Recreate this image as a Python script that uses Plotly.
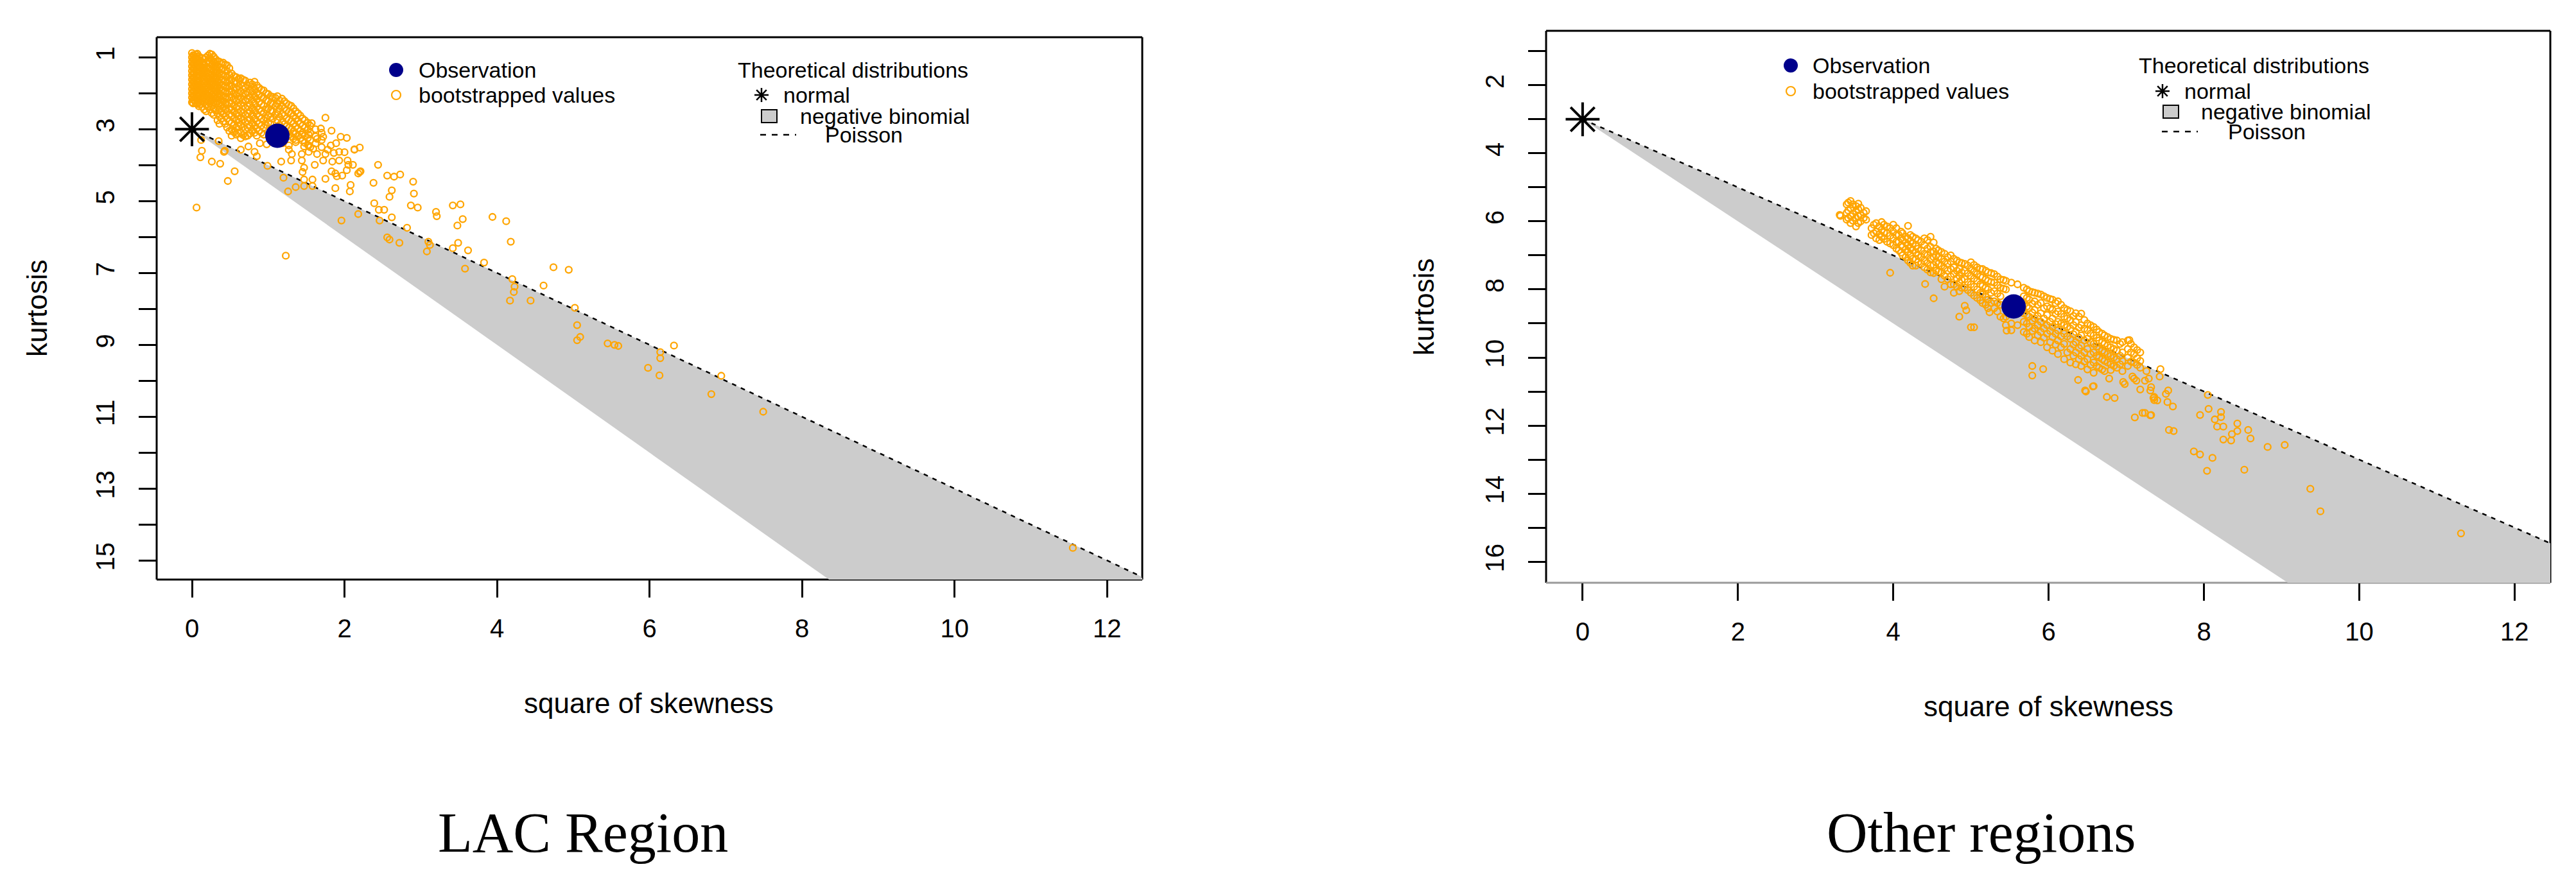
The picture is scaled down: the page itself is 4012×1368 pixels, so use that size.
import plotly.graph_objects as go

W, H = 4012, 1368
FONT = "Liberation Sans, Arial, sans-serif"
ORANGE = "#FFA500"
NAVY = "#00008B"
GREY = "#CCCCCC"

# ---- theoretical curves (shared) ----
normal_x = [0]
normal_y = [3]
poisson_x = [0, 13]
poisson_y = [3, 16]
nbinom_x = [0, 13, 13]
nbinom_y = [3, 16, 22.5]

x_ticks = [0, 2, 4, 6, 8, 10, 12]

# ---- LAC region ----
lac_obs_x = [1.12]
lac_obs_y = [3.18]

# dense part of the bootstrap cloud, read column by column (x, kurtosis values)
lac_core = [
    (0.00, [0.88, 1.00, 1.12, 1.25, 1.38, 1.50, 1.62, 1.75, 1.88, 2.00, 2.12, 2.25]),
    (0.03, [0.95, 1.08, 1.20, 1.32, 1.45, 1.58, 1.70, 1.82, 1.95, 2.08, 2.20]),
    (0.07, [0.90, 1.02, 1.15, 1.28, 1.40, 1.53, 1.66, 1.80, 1.92, 2.05, 2.18, 2.30]),
    (0.11, [1.10, 1.25, 1.38, 1.50, 1.62, 1.75, 1.90, 2.02, 2.15, 2.30]),
    (0.16, [1.05, 1.20, 1.32, 1.45, 1.60, 1.72, 1.85, 1.98, 2.12, 2.25, 2.45]),
    (0.21, [0.95, 1.10, 1.28, 1.42, 1.55, 1.68, 1.82, 1.95, 2.08, 2.22, 2.38]),
    (0.26, [0.92, 1.08, 1.22, 1.35, 1.50, 1.65, 1.78, 1.92, 2.05, 2.20, 2.35, 2.55]),
    (0.31, [1.05, 1.18, 1.32, 1.45, 1.60, 1.75, 1.88, 2.02, 2.15, 2.30, 2.48]),
    (0.36, [1.12, 1.28, 1.42, 1.55, 1.70, 1.85, 2.00, 2.12, 2.28, 2.45, 2.65, 2.85]),
    (0.41, [1.15, 1.30, 1.48, 1.62, 1.78, 1.92, 2.08, 2.22, 2.40, 2.58, 2.78]),
    (0.46, [1.22, 1.38, 1.55, 1.70, 1.85, 2.00, 2.15, 2.32, 2.50, 2.70, 2.95]),
    (0.52, [1.45, 1.62, 1.78, 1.95, 2.10, 2.28, 2.45, 2.62, 2.82, 3.00, 3.18]),
    (0.58, [1.55, 1.72, 1.88, 2.05, 2.22, 2.40, 2.58, 2.75, 2.95, 3.15]),
    (0.64, [1.58, 1.75, 1.95, 2.12, 2.30, 2.50, 2.68, 2.88, 3.10, 3.25]),
    (0.70, [1.65, 1.85, 2.02, 2.20, 2.40, 2.60, 2.80, 3.00, 3.20]),
    (0.76, [1.70, 1.90, 2.10, 2.30, 2.50, 2.72, 2.92, 3.12]),
    (0.82, [1.68, 1.88, 2.08, 2.28, 2.48, 2.70, 2.90, 3.10]),
    (0.88, [1.85, 2.05, 2.25, 2.45, 2.65, 2.85, 3.05]),
    (0.94, [1.92, 2.12, 2.35, 2.55, 2.75, 2.95, 3.15]),
    (1.00, [2.02, 2.22, 2.42, 2.62, 2.82]),
    (1.06, [2.10, 2.30, 2.50, 2.70]),
    (1.12, [2.08, 2.30, 2.52, 2.75]),
    (1.18, [2.15, 2.35, 2.58, 2.80, 3.02]),
    (1.24, [2.28, 2.48, 2.70, 2.92, 3.12]),
    (1.30, [2.35, 2.55, 2.78, 3.00, 3.20]),
    (1.36, [2.50, 2.70, 2.92, 3.12, 3.30]),
    (1.42, [2.62, 2.85, 3.05, 3.25]),
    (1.48, [2.75, 2.95, 3.18, 3.38]),
    (1.55, [2.90, 3.10, 3.30, 3.50]),
    (1.62, [3.00, 3.20, 3.40]),
    (1.70, [3.10, 3.30, 3.50]),
]

# second, staggered pass over the same dense area
lac_core_b = [
    (0.015, [0.94, 1.06, 1.18, 1.31, 1.44, 1.56, 1.68, 1.81, 1.94, 2.06, 2.18, 2.28]),
    (0.05, [0.92, 1.05, 1.14, 1.26, 1.38, 1.52, 1.64, 1.77, 1.90, 2.02, 2.14, 2.27]),
    (0.09, [0.97, 1.08, 1.20, 1.33, 1.46, 1.58, 1.70, 1.84, 1.97, 2.10, 2.24, 2.36]),
    (0.135, [1.02, 1.16, 1.30, 1.42, 1.56, 1.68, 1.82, 1.95, 2.08, 2.22, 2.38]),
    (0.185, [1.00, 1.14, 1.26, 1.38, 1.52, 1.65, 1.78, 1.90, 2.04, 2.18, 2.32, 2.50]),
    (0.235, [0.90, 1.02, 1.16, 1.32, 1.46, 1.60, 1.74, 1.88, 2.00, 2.14, 2.28, 2.45]),
    (0.285, [0.98, 1.12, 1.26, 1.40, 1.55, 1.70, 1.84, 1.97, 2.10, 2.25, 2.42, 2.60]),
    (0.335, [1.10, 1.24, 1.38, 1.52, 1.66, 1.80, 1.94, 2.08, 2.22, 2.38, 2.56, 2.75]),
    (0.385, [1.18, 1.34, 1.48, 1.62, 1.76, 1.90, 2.05, 2.18, 2.34, 2.52, 2.70]),
    (0.435, [1.20, 1.36, 1.52, 1.66, 1.82, 1.96, 2.12, 2.28, 2.45, 2.64, 2.85]),
    (0.49, [1.30, 1.48, 1.64, 1.80, 1.96, 2.12, 2.28, 2.44, 2.60, 2.78, 3.05]),
    (0.55, [1.52, 1.68, 1.84, 2.00, 2.16, 2.34, 2.52, 2.70, 2.88, 3.08]),
    (0.61, [1.60, 1.80, 1.98, 2.16, 2.36, 2.55, 2.72, 2.92, 3.12]),
    (0.67, [1.62, 1.80, 2.00, 2.18, 2.36, 2.55, 2.74, 2.94, 3.16]),
    (0.73, [1.78, 1.98, 2.16, 2.36, 2.56, 2.76, 2.96, 3.18]),
    (0.79, [1.75, 1.96, 2.18, 2.40, 2.60, 2.82, 3.02]),
    (0.85, [1.78, 1.98, 2.16, 2.38, 2.58, 2.78, 2.98, 3.18]),
    (0.91, [1.90, 2.10, 2.30, 2.50, 2.70, 2.90, 3.10]),
    (0.97, [2.00, 2.20, 2.45, 2.68, 2.88]),
    (1.03, [2.08, 2.28, 2.48, 2.66, 2.86]),
    (1.09, [2.12, 2.36, 2.60]),
    (1.15, [2.20, 2.42, 2.66, 2.88]),
    (1.21, [2.22, 2.42, 2.62, 2.86, 3.05]),
    (1.27, [2.32, 2.52, 2.74, 2.96, 3.16]),
    (1.33, [2.42, 2.62, 2.84, 3.06, 3.26]),
    (1.39, [2.56, 2.78, 2.98, 3.18]),
    (1.45, [2.70, 2.90, 3.10, 3.32]),
    (1.52, [2.82, 3.02, 3.24, 3.44]),
]

lac_scatter = [
    (1.75, 2.68), (1.57, 2.83), (1.69, 2.98), (1.83, 3.04), (1.95, 3.21), (2.03, 3.24),
    (2.20, 3.51), (2.13, 3.56), (2.44, 3.99), (2.56, 4.29), (2.65, 4.32), (2.73, 4.26),
    (2.62, 4.70), (2.59, 4.88), (2.90, 4.46), (2.91, 4.79), (2.38, 4.49), (2.87, 5.12),
    (2.96, 5.18), (2.39, 5.06), (2.45, 5.24), (2.52, 5.24), (2.46, 5.54), (2.62, 5.45),
    (2.82, 5.74), (3.20, 5.30), (3.21, 5.42), (3.42, 5.12), (3.52, 5.09), (3.55, 5.50),
    (3.48, 5.68), (2.56, 6.01), (2.59, 6.07), (2.72, 6.16), (3.10, 6.13), (3.08, 6.40),
    (3.12, 6.22), (3.42, 6.31), (3.49, 6.16), (3.62, 6.37), (3.58, 6.88), (2.18, 5.36),
    (1.96, 5.54), (1.88, 4.64), (2.08, 4.55), (2.07, 4.73), (2.18, 4.23), (2.21, 4.17),
    (1.75, 4.38), (1.90, 4.31), (1.83, 4.17), (1.58, 4.40), (1.58, 4.58), (1.47, 4.58),
    (1.47, 4.40), (1.45, 4.19), (1.36, 4.61), (1.26, 4.73), (1.20, 4.35), (1.17, 3.90),
    (0.99, 4.02), (0.85, 3.75), (0.82, 3.63), (0.98, 3.42), (0.89, 3.39), (0.74, 3.48),
    (0.64, 3.57), (0.43, 3.60), (0.42, 3.63), (0.35, 3.33), (0.26, 3.90), (0.37, 3.96),
    (0.56, 4.17), (0.47, 4.44), (0.11, 3.78), (0.13, 3.60), (0.12, 3.30), (0.06, 5.18),
    (1.23, 6.52), (1.30, 3.87), (1.31, 3.69), (1.44, 3.87), (1.47, 4.07), (1.61, 3.99),
    (1.72, 3.87), (1.84, 3.90), (1.93, 3.87), (2.04, 3.87), (2.05, 3.99), (2.11, 3.99),
    (1.97, 4.29), (2.03, 4.14), (2.20, 4.19), (1.88, 4.23), (1.93, 3.63), (2.00, 3.64),
    (2.13, 3.57), (1.82, 3.45), (1.89, 3.39), (1.64, 3.27), (1.72, 3.21), (1.44, 3.15),
    (1.53, 3.15), (1.33, 3.12), (1.36, 3.36), (1.47, 3.48), (1.53, 3.45), (1.59, 3.54),
    (1.44, 3.69), (1.53, 3.63), (1.64, 3.69), (1.75, 3.69), (1.78, 3.57), (1.86, 3.66),
    (1.27, 3.57), (1.27, 3.45), (1.19, 3.39),
    (3.94, 5.44), (4.12, 5.56), (4.18, 6.13), (3.83, 6.71), (4.74, 6.84), (4.94, 6.91),
    (4.20, 7.17), (4.23, 7.38), (4.22, 7.53), (4.17, 7.77), (4.44, 7.77), (4.61, 7.35),
    (5.02, 7.97), (5.05, 8.45), (5.09, 8.78), (5.05, 8.87), (5.45, 8.96), (5.54, 9.00),
    (5.59, 9.03), (6.14, 9.20), (6.14, 9.37), (6.32, 9.02), (5.98, 9.64), (6.13, 9.85),
    (6.94, 9.86), (6.81, 10.37), (7.49, 10.86), (11.55, 14.65),
]

lac_y_ticks = list(range(1, 16))
lac_y_labels = [str(v) if v % 2 == 1 else "" for v in lac_y_ticks]

# ---- Other regions ----
oth_obs_x = [5.55]
oth_obs_y = [8.50]

oth_core = [
    (3.40, [5.50, 5.75, 5.95]),
    (3.45, [5.40, 5.62, 5.85, 6.05]),
    (3.52, [5.55, 5.70, 5.90, 6.15]),
    (3.58, [5.60, 5.82, 6.00]),
    (3.65, [5.70, 5.95]),
    (3.72, [6.20, 6.40]),
    (3.78, [6.05, 6.30, 6.50]),
    (3.85, [6.02, 6.25, 6.45]),
    (3.92, [6.15, 6.35, 6.60]),
    (4.00, [6.10, 6.30, 6.50, 6.70]),
    (4.07, [6.40, 6.60, 6.85]),
    (4.12, [6.35, 6.55, 6.75, 7.00]),
    (4.19, [6.13, 6.50, 6.70, 6.90, 7.15]),
    (4.25, [6.45, 6.65, 6.85, 7.10, 7.30]),
    (4.32, [6.55, 6.80, 7.00, 7.20]),
    (4.40, [6.50, 6.70, 6.95, 7.15, 7.35]),
    (4.48, [6.45, 6.75, 6.90, 7.10, 7.30, 7.50]),
    (4.55, [6.80, 7.00, 7.20, 7.45]),
    (4.62, [6.90, 7.10, 7.30, 7.50, 7.70]),
    (4.70, [7.05, 7.25, 7.45, 7.70]),
    (4.78, [7.10, 7.35, 7.55, 7.85, 8.10]),
    (4.85, [7.20, 7.40, 7.60, 7.80, 8.05]),
    (4.92, [7.25, 7.45, 7.70, 7.95]),
    (5.00, [7.20, 7.40, 7.60, 7.85, 8.10]),
    (5.08, [7.35, 7.55, 7.75, 8.00, 8.25]),
    (5.15, [7.40, 7.65, 7.90, 8.15, 8.40]),
    (5.22, [7.50, 7.75, 8.00, 8.30, 8.55]),
    (5.30, [7.55, 7.80, 8.05, 8.35, 8.55]),
    (5.38, [7.70, 7.95, 8.20, 8.45, 8.80]),
    (5.45, [7.75, 8.00, 8.80, 9.05]),
    (5.52, [7.80, 9.00, 9.20]),
    (5.60, [7.85, 9.05]),
    (5.68, [7.95, 8.20, 8.45, 8.70, 8.95, 9.25]),
    (5.75, [8.05, 8.30, 8.55, 8.80, 9.10, 9.40]),
    (5.82, [8.10, 8.35, 8.60, 8.85, 9.15, 9.50]),
    (5.90, [8.15, 8.40, 8.70, 8.95, 9.25, 9.55]),
    (5.98, [8.25, 8.50, 8.75, 9.05, 9.30, 9.70]),
    (6.05, [8.30, 8.60, 8.85, 9.10, 9.40, 9.80]),
    (6.12, [8.35, 8.65, 8.95, 9.20, 9.50, 9.90]),
    (6.20, [8.55, 8.80, 9.05, 9.30, 9.60, 10.05]),
    (6.28, [8.64, 8.90, 9.15, 9.45, 9.75, 10.15]),
    (6.35, [8.70, 8.95, 9.25, 9.55, 9.85, 10.20]),
    (6.42, [8.71, 9.05, 9.35, 9.65, 9.95, 10.25]),
    (6.50, [9.00, 9.20, 9.45, 9.75, 10.05, 10.35]),
    (6.58, [9.10, 9.35, 9.60, 9.85, 10.15, 10.45]),
    (6.65, [9.25, 9.50, 9.75, 10.00, 10.30]),
    (6.72, [9.35, 9.60, 9.85, 10.10, 10.40]),
    (6.80, [9.45, 9.70, 9.95, 10.20, 10.37]),
    (6.88, [9.50, 9.80, 10.05, 10.30]),
    (6.95, [9.55, 9.85, 10.10, 10.40]),
    (7.02, [9.50, 9.75, 10.00, 10.25]),
    (7.10, [9.70, 9.90, 10.15]),
    (7.18, [9.85, 10.10, 10.30]),
]

oth_core_b = [
    (3.42, [5.45, 5.68, 5.90]),
    (3.48, [5.50, 5.78, 5.98]),
    (3.55, [5.48, 5.65, 5.85, 6.05]),
    (3.62, [5.75, 5.90]),
    (3.75, [6.10, 6.35]),
    (3.82, [6.15, 6.38, 6.55]),
    (3.88, [6.10, 6.32, 6.52]),
    (3.96, [6.20, 6.42, 6.65]),
    (4.04, [6.20, 6.40, 6.60, 6.80]),
    (4.10, [6.30, 6.50, 6.70, 6.92]),
    (4.16, [6.45, 6.62, 6.82, 7.05]),
    (4.22, [6.40, 6.58, 6.78, 7.00, 7.22]),
    (4.29, [6.50, 6.72, 6.92, 7.12, 7.30]),
    (4.36, [6.60, 6.85, 7.05, 7.25]),
    (4.44, [6.55, 6.80, 7.00, 7.22, 7.42]),
    (4.52, [6.62, 6.88, 7.05, 7.28, 7.52]),
    (4.58, [6.85, 7.05, 7.25, 7.48]),
    (4.66, [6.95, 7.18, 7.38, 7.60]),
    (4.74, [7.00, 7.18, 7.40, 7.62, 7.85]),
    (4.82, [7.15, 7.45, 7.68, 7.92]),
    (4.88, [7.22, 7.50, 7.72, 7.95]),
    (4.96, [7.30, 7.52, 7.78, 8.02]),
    (5.04, [7.28, 7.48, 7.68, 7.92, 8.18]),
    (5.12, [7.40, 7.62, 7.85, 8.10, 8.32]),
    (5.19, [7.45, 7.70, 7.95, 8.22, 8.45]),
    (5.26, [7.52, 7.78, 8.10, 8.40]),
    (5.34, [7.62, 7.88, 8.12, 8.40, 8.65]),
    (5.42, [7.72, 7.98, 8.85]),
    (5.72, [8.00, 8.25, 8.50, 8.75, 9.00, 9.30]),
    (5.79, [8.08, 8.42, 8.68, 8.92, 9.22]),
    (5.86, [8.12, 8.45, 8.78, 9.05, 9.35]),
    (5.94, [8.20, 8.55, 8.85, 9.15, 9.42]),
    (6.02, [8.28, 8.55, 8.95, 9.22, 9.55]),
    (6.09, [8.40, 8.72, 9.02, 9.30, 9.62]),
    (6.16, [8.45, 8.72, 9.00, 9.38, 9.70]),
    (6.24, [8.60, 8.85, 9.10, 9.38, 9.85]),
    (6.32, [8.78, 9.05, 9.32, 9.62, 9.95]),
    (6.39, [8.80, 9.12, 9.42, 9.72, 10.05]),
    (6.46, [8.90, 9.15, 9.50, 9.85, 10.12]),
    (6.54, [9.05, 9.30, 9.55, 9.90, 10.22]),
    (6.62, [9.18, 9.42, 9.68, 9.95, 10.25]),
    (6.69, [9.30, 9.55, 9.80, 10.05, 10.35]),
    (6.76, [9.40, 9.65, 9.90, 10.15]),
    (6.84, [9.48, 9.75, 10.00, 10.25]),
    (6.92, [9.60, 9.95, 10.20]),
    (7.06, [9.60, 9.85, 10.12]),
    (7.14, [9.78, 10.02, 10.22]),
]

oth_scatter = [
    (3.32, 5.84), (3.31, 5.81), (3.96, 7.51), (4.41, 7.84), (4.52, 8.26), (4.66, 7.92),
    (4.85, 8.80), (4.92, 8.48), (4.94, 8.61), (5.04, 9.11), (5.00, 9.11), (5.24, 8.67),
    (5.46, 9.21), (5.79, 10.25), (5.79, 10.53), (5.93, 10.34), (6.48, 11.00), (6.57, 10.85),
    (6.75, 11.16), (6.85, 11.19), (7.11, 11.76), (7.21, 11.63), (7.31, 11.70), (6.38, 10.66),
    (6.78, 10.62), (6.96, 10.72), (7.10, 10.62), (7.18, 10.94), (7.35, 11.19), (7.40, 11.26),
    (7.51, 11.07), (7.55, 12.13), (7.04, 9.49), (7.44, 10.34), (7.26, 10.40), (7.43, 10.56),
    (7.08, 10.56), (7.13, 10.68), (7.24, 10.68), (7.29, 10.62), (7.32, 10.87), (7.31, 10.97),
    (7.36, 11.16), (7.36, 11.25), (7.54, 10.97), (7.53, 11.31), (7.60, 11.44), (6.98, 10.78),
    (6.58, 10.84), (6.47, 10.97), (7.24, 11.63), (7.32, 11.69), (7.61, 12.16),
    (8.05, 11.10), (8.06, 11.51), (7.95, 11.69), (8.14, 11.82), (8.22, 11.75), (8.25, 12.03),
    (8.17, 12.03), (8.22, 11.60), (8.43, 11.94), (8.43, 12.16), (8.36, 12.25), (8.25, 12.41),
    (8.35, 12.44), (8.57, 12.13), (8.60, 12.38), (8.82, 12.63), (9.04, 12.57), (7.87, 12.76),
    (7.95, 12.85), (8.11, 12.95), (8.04, 13.33), (8.52, 13.30), (9.37, 13.86), (9.50, 14.52),
    (11.31, 15.17),
]

oth_y_ticks = list(range(1, 17))
oth_y_labels = [str(v) if v % 2 == 0 else "" for v in oth_y_ticks]


def flatten(cores, scatter):
    xs, ys = [], []
    for core in cores:
        for x, col in core:
            for y in col:
                xs.append(x)
                ys.append(y)
    for x, y in scatter:
        xs.append(x)
        ys.append(y)
    return xs, ys


def px(v):
    return v / W


def py(v):
    return 1 - v / H


fig = go.Figure()


def add_panel(xa, ya, cores, scatter, obs_x, obs_y):
    bx, by = flatten(cores, scatter)
    fig.add_trace(go.Scatter(x=nbinom_x, y=nbinom_y, mode="lines", fill="toself",
                             fillcolor=GREY, line=dict(width=0), xaxis=xa, yaxis=ya,
                             hoverinfo="skip"))
    fig.add_trace(go.Scatter(x=poisson_x, y=poisson_y, mode="lines",
                             line=dict(color="black", width=2.5, dash="7px,8px"),
                             xaxis=xa, yaxis=ya))
    fig.add_trace(go.Scatter(x=bx, y=by, mode="markers", xaxis=xa, yaxis=ya,
                             marker=dict(symbol="circle-open", size=10, color=ORANGE,
                                         line=dict(width=2.3))))
    fig.add_trace(go.Scatter(x=normal_x, y=normal_y, mode="markers", xaxis=xa, yaxis=ya,
                             marker=dict(symbol="asterisk-open", size=44, color="black",
                                         line=dict(width=4, color="black"))))
    fig.add_trace(go.Scatter(x=obs_x, y=obs_y, mode="markers", xaxis=xa, yaxis=ya,
                             marker=dict(symbol="circle", size=38, color=NAVY)))


add_panel("x", "y", [lac_core, lac_core_b], lac_scatter, lac_obs_x, lac_obs_y)
add_panel("x2", "y2", [oth_core, oth_core_b], oth_scatter, oth_obs_x, oth_obs_y)

# panel boxes in pixels: left, top, right, bottom
boxes = [(244, 58, 1779, 903, "black"), (2408, 48, 3972, 908, "#9A9A9A")]

common_x = dict(tickvals=x_ticks, ticks="outside", ticklen=27, tickwidth=2.5,
                tickcolor="black", showline=False, showgrid=False, zeroline=False,
                tickfont=dict(family=FONT, size=40, color="black"),
                ticklabelstandoff=14, automargin=False)
common_y = dict(ticks="outside", ticklen=27, tickwidth=2.5, tickcolor="black",
                showline=False, showgrid=False, zeroline=False, tickangle=-90,
                tickfont=dict(family=FONT, size=40, color="black"),
                ticklabelstandoff=22, automargin=False)

fig.update_layout(
    xaxis=dict(domain=[px(244), px(1779)], range=[-0.463, 12.46], anchor="y", **common_x),
    yaxis=dict(domain=[py(903), py(58)], range=[15.53, 0.44], anchor="x",
               tickvals=lac_y_ticks, ticktext=lac_y_labels, **common_y),
    xaxis2=dict(domain=[px(2408), px(3972)], range=[-0.47, 12.46], anchor="y2", **common_x),
    yaxis2=dict(domain=[py(908), py(48)], range=[16.62, 0.40], anchor="x2",
                tickvals=oth_y_ticks, ticktext=oth_y_labels, **common_y),
)

shapes = []
annotations = []
for (l, t, r, b, bottom_col) in boxes:
    for (x0, y0, x1, y1, col) in [(l, t, r, t, "black"), (l, t, l, b, "black"),
                                  (r, t, r, b, "black"), (l, b, r, b, bottom_col)]:
        shapes.append(dict(type="line", xref="paper", yref="paper", layer="below",
                           x0=px(x0), y0=py(y0), x1=px(x1), y1=py(y1),
                           line=dict(color=col, width=3)))


def text(x, y, s, size=34, anchor="left", angle=0, family=FONT):
    annotations.append(dict(x=px(x), y=py(y), xref="paper", yref="paper", text=s,
                            showarrow=False, xanchor=anchor, yanchor="middle",
                            textangle=angle, font=dict(family=family, size=size, color="black")))


def legend(dot_x, row1, row2, text_x, title_x, star_x, normal_x_px, box_x, nb_x,
           nb_y, dash_x0, dash_x1, dash_y, pois_x):
    # Observation / bootstrapped values
    shapes.append(dict(type="circle", xref="paper", yref="paper",
                       x0=px(dot_x - 11), x1=px(dot_x + 11), y0=py(row1 + 11), y1=py(row1 - 11),
                       fillcolor=NAVY, line=dict(width=0)))
    shapes.append(dict(type="circle", xref="paper", yref="paper",
                       x0=px(dot_x - 7), x1=px(dot_x + 7), y0=py(row2 + 7), y1=py(row2 - 7),
                       line=dict(color=ORANGE, width=2.2)))
    text(text_x, row1, "Observation")
    text(text_x, row2, "bootstrapped values")
    # Theoretical distributions
    text(title_x, row1, "Theoretical distributions")
    r, d = 11, 7.8
    path = (f"M {px(star_x - r)},{py(row2)} L {px(star_x + r)},{py(row2)} "
            f"M {px(star_x)},{py(row2 - r)} L {px(star_x)},{py(row2 + r)} "
            f"M {px(star_x - d)},{py(row2 - d)} L {px(star_x + d)},{py(row2 + d)} "
            f"M {px(star_x - d)},{py(row2 + d)} L {px(star_x + d)},{py(row2 - d)}")
    shapes.append(dict(type="path", xref="paper", yref="paper", path=path,
                       line=dict(color="black", width=2.5)))
    text(normal_x_px, row2, "normal")
    shapes.append(dict(type="rect", xref="paper", yref="paper",
                       x0=px(box_x - 12), x1=px(box_x + 12), y0=py(nb_y + 10), y1=py(nb_y - 10),
                       fillcolor=GREY, line=dict(color="black", width=2)))
    text(nb_x, nb_y, "negative binomial")
    shapes.append(dict(type="line", xref="paper", yref="paper",
                       x0=px(dash_x0), x1=px(dash_x1), y0=py(dash_y), y1=py(dash_y),
                       line=dict(color="black", width=2.5, dash="9px,9px")))
    text(pois_x, dash_y, "Poisson")


legend(617, 109, 148, 650, 1147, 1186, 1218, 1198, 1244, 181, 1184, 1240, 210, 1283)
legend(2789, 102, 142, 2821, 3329, 3368, 3400, 3381, 3426, 174, 3367, 3423, 205, 3468)

# axis titles and panel captions
text(57, 480, "kurtosis", size=44, anchor="center", angle=-90)
text(2218, 478, "kurtosis", size=44, anchor="center", angle=-90)
text(1011, 1095, "square of skewness", size=44, anchor="center")
text(3190, 1100, "square of skewness", size=44, anchor="center")
serif = "Liberation Serif, Times New Roman, serif"
text(908, 1297, "LAC Region", size=88, anchor="center", family=serif)
text(3085, 1297, "Other regions", size=88, anchor="center", family=serif)

fig.update_layout(
    width=W, height=H,
    margin=dict(l=0, r=0, t=0, b=0),
    paper_bgcolor="white", plot_bgcolor="white",
    showlegend=False,
    shapes=shapes,
    annotations=annotations,
)

fig.write_html("out.html", config={"displayModeBar": False},
               post_script="document.body.style.margin='0';")
